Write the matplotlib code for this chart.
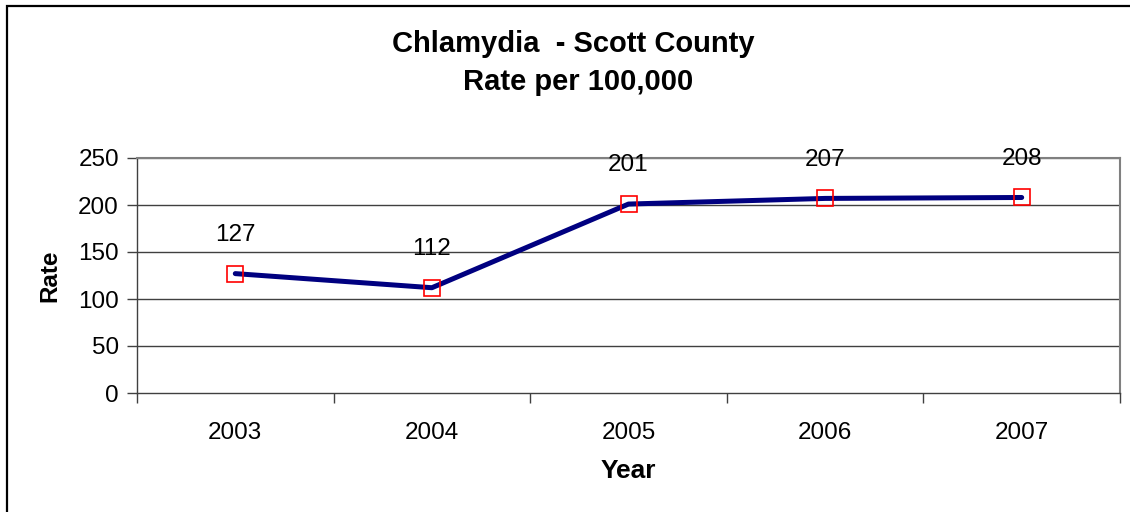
import matplotlib
matplotlib.use("Agg")
import matplotlib.pyplot as plt
from matplotlib.patches import Rectangle
import numpy as np

plt.rcParams['font.family'] = ['Liberation Sans', 'DejaVu Sans']

years = ["2003", "2004", "2005", "2006", "2007"]
rates = [127, 112, 201, 207, 208]
title_lines = ["Chlamydia  - Scott County", "Rate per 100,000"]
y_ticks = [0, 50, 100, 150, 200, 250]

W, H = 1130, 512
fig = plt.figure(figsize=(W / 100, H / 100), dpi=100)
fig.patch.set_facecolor("white")

ax = fig.add_axes([137 / W, 1 - 393 / H, (1120 - 137) / W, (393 - 158) / H])
x = np.arange(len(years))

ax.set_xlim(-0.5, len(years) - 0.5)
ax.set_ylim(0, 250)
ax.set_yticks(y_ticks)
ax.set_yticklabels([str(v) for v in y_ticks], fontsize=17.5)
for v in y_ticks[1:]:
    ax.axhline(v, color="#404040" if v < 250 else "#808080", lw=1.0, zorder=1)

ax.set_xticks(x)
ax.set_xticklabels(years, fontsize=17.5)
ax.tick_params(axis="x", which="major", length=0, pad=21)
ax.set_xticks(np.arange(-0.5, len(years)), minor=True)
ax.tick_params(axis="x", which="minor", length=7, width=1, color="#404040", direction="out")
ax.tick_params(axis="y", length=7, width=1, color="#404040", direction="out", pad=6)

for side in ["top", "right"]:
    ax.spines[side].set_color("#808080")
    ax.spines[side].set_linewidth(1.5)
for side in ["left", "bottom"]:
    ax.spines[side].set_color("#404040")
    ax.spines[side].set_linewidth(1.0)

ax.plot(x, rates, color="#000080", lw=3.6, solid_capstyle="round", zorder=3)
ax.plot(x, rates, ls="none", marker="s", markersize=12, markerfacecolor="none",
        markeredgecolor="#ff0000", markeredgewidth=1.2, zorder=4)

for xi, r in zip(x, rates):
    ax.annotate(str(r), (xi, r), xytext=(0, 28), textcoords="offset points",
                ha="center", va="center", fontsize=17.5)

ax.set_xlabel("Year", fontsize=19, fontweight="bold", labelpad=11)
ax.set_ylabel("Rate", fontsize=17.5, fontweight="bold", labelpad=12)

fig.text(573 / W, 1 - 44 / H, title_lines[0], ha="center", va="center",
         fontsize=21, fontweight="bold")
fig.text(578 / W, 1 - 82 / H, title_lines[1], ha="center", va="center",
         fontsize=21, fontweight="bold")

fig.patches.append(Rectangle((6.5 / W, -0.1), 1.2, 1 - 5.5 / H + 0.1,
                             transform=fig.transFigure, fill=False,
                             edgecolor="black", lw=1.6, zorder=0))

fig.savefig("out.png", dpi=100)
